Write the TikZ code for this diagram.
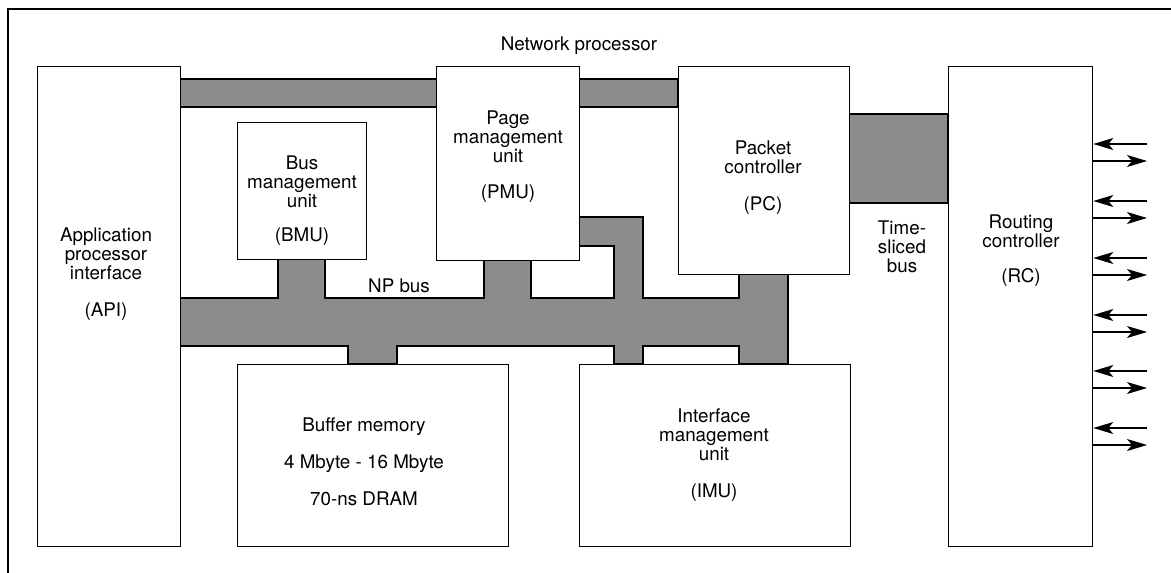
\documentclass[tikz,border=0pt]{standalone}
\usepackage{fontspec}
\setmainfont{TeX Gyre Heros}
\usetikzlibrary{arrows.meta}
\tikzset{
  box/.style={draw=black, line width=1.3pt, fill=white, rectangle, inner sep=0pt, anchor=north west},
  busfill/.style={draw=black, line width=1.3pt, fill=black!45},
  lbl/.style={align=center, anchor=base, inner sep=0pt, font=\fontsize{18.8}{18.7}\selectfont},
  io/.style={line width=1.1pt, -{Stealth[length=20pt, width=12pt, inset=5pt]}},
}
\begin{document}
\begin{tikzpicture}[x=1pt, y=-1pt]
\useasboundingbox (0,0) rectangle (1171,573);
% outer frame (cropped)
\draw[line width=2pt] (8,573) -- (8,9) -- (1171,9);
% buses
\draw[busfill] (180,79) rectangle (678,107);
\draw[busfill] (849,114) rectangle (948,203);
\draw[busfill] (180,298) -- (278,298) -- (278,259) -- (325,259) -- (325,298)
  -- (484,298) -- (484,260) -- (531,260) -- (531,298) -- (614,298) -- (614,246)
  -- (579,246) -- (579,217) -- (643,217) -- (643,298) -- (739,298) -- (739,274)
  -- (788,274) -- (788,364) -- (739,364) -- (739,346) -- (643,346) -- (643,364)
  -- (614,364) -- (614,346) -- (397,346) -- (397,364) -- (348,364) -- (348,346)
  -- (180,346) -- cycle;
% boxes
\node[box, minimum width=143pt, minimum height=480pt] (api) at (37,66) {};
\node[box, minimum width=129pt, minimum height=137pt] (bmu) at (237,122) {};
\node[box, minimum width=143pt, minimum height=194pt] (pmu) at (436,66) {};
\node[box, minimum width=171pt, minimum height=208pt] (pc) at (678,66) {};
\node[box, minimum width=144pt, minimum height=480pt] (rc) at (948,66) {};
\node[box, minimum width=271pt, minimum height=182pt] (buf) at (237,364) {};
\node[box, minimum width=271pt, minimum height=182pt] (imu) at (579,364) {};
% labels (anchor = baseline of last line)
\node[lbl] (tnet) at (579,50) {Network processor};
\node[lbl] (tapi) at (106,316) {Application\\processor\\interface\\[18pt](API)};
\node[lbl] (tbmu) at (302,241) {Bus\\management\\unit\\[15pt](BMU)};
\node[lbl] (tpmu) at (508,198) {Page\\management\\unit\\[17pt](PMU)};
\node[lbl] (tpc) at (763,210) {Packet\\controller\\[18pt](PC)};
\node[lbl] (ttsb) at (902,272) {Time-\\sliced\\bus};
\node[lbl] (trc) at (1021,282) {Routing\\controller\\[16pt](RC)};
\node[lbl] (tnp) at (399,292) {NP bus};
\node[lbl] (tbuf) at (364,505) {Buffer memory\\[18pt]4 Mbyte - 16 Mbyte\\[18pt]70-ns DRAM};
\node[lbl] (timu) at (714,497) {Interface\\management\\unit\\[18pt](IMU)};
% I/O arrows
\foreach \i/\y in {1/144,2/201,3/258,4/315,5/371,6/428}{
  \coordinate (in\i) at (1147,\y);
  \coordinate (out\i) at (1147,\y+17);
  \draw[io] (in\i) -- (in\i -| rc.east);
  \draw[io] (out\i -| rc.east) -- (out\i);
}
\end{tikzpicture}
\end{document}
